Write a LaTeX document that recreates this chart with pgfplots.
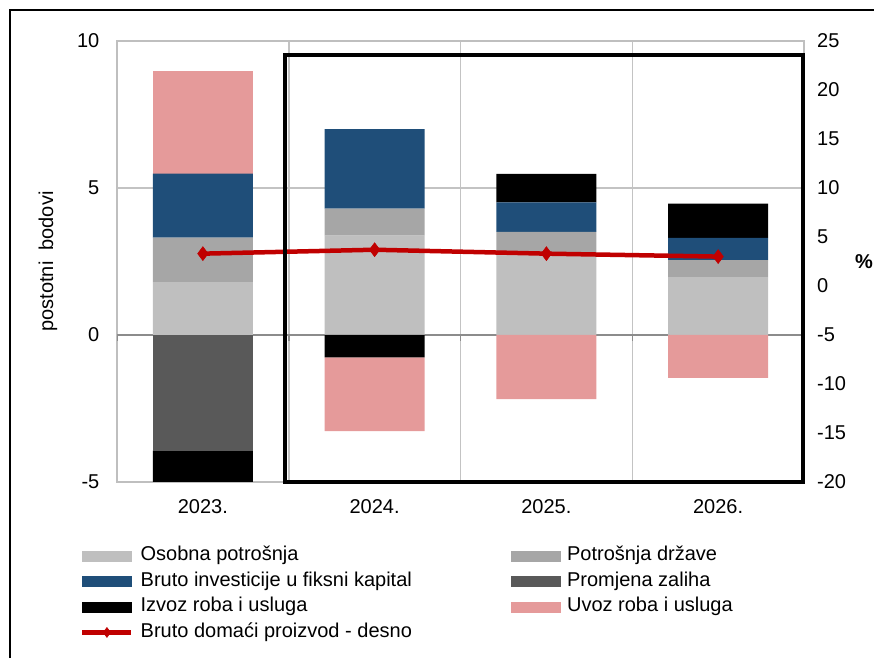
\documentclass[border=0pt]{standalone}
\usepackage{pgfplots}
\pgfplotsset{compat=1.18}
\usepackage{fontspec}
\setmainfont{Liberation Sans}

\definecolor{osobna}{HTML}{BFBFBF}
\definecolor{drzava}{HTML}{A6A6A6}
\definecolor{invest}{HTML}{1F4E79}
\definecolor{zalihe}{HTML}{595959}
\definecolor{izvoz}{HTML}{000000}
\definecolor{uvoz}{HTML}{E59A9A}
\definecolor{bdp}{HTML}{C00000}
\definecolor{okvir}{HTML}{BFBFBF}
\definecolor{mreza}{HTML}{C3C3C3}

\pgfplotsset{
  base/.style={
    at={(117pt,176pt)}, anchor=south west,
    width=687pt, height=441pt, scale only axis,
    xmin=-0.5, xmax=3.5,
    /pgf/number format/assume math mode=true,
    major tick length=0pt, minor tick length=0pt,
  },
  stupci/.style={
    base, ybar stacked, bar width=0.582, ymin=-5, ymax=10,
    xtick={0,1,2,3},
  },
  bdpleg/.style={
    legend image code/.code={\draw[mark repeat=2, mark phase=2, ##1, mark size=5pt]
      plot coordinates {(0pt,0pt) (24.5pt,0pt) (49pt,0pt)};}
  },
}

\begin{document}
\fontsize{20pt}{24pt}\selectfont
\begin{tikzpicture}
\useasboundingbox (0pt,0pt) rectangle (874pt,658pt);

% pozitivni doprinosi
\begin{axis}[stupci,
  ytick={-5,0,5,10},
  xticklabels={2023.,2024.,2025.,2026.},
  minor xtick={0.5,1.5,2.5},
  ymajorgrids, xminorgrids,
  grid style={mreza, line width=1.5pt},
  axis line style={okvir, line width=1.5pt},
  yticklabel style={inner sep=0pt, xshift=-17.5pt},
  xticklabel style={inner sep=0pt, yshift=-17pt},
  ylabel={postotni\ \ bodovi},
  ylabel style={at={(axis description cs:-0.1004,0.5)}, anchor=center},
  extra y ticks={0}, extra y tick labels={},
  extra y tick style={grid=major, major grid style={gray!90, line width=1.5pt}},
]
\draw[gray!90, line width=1.5pt] (axis cs:-0.5,0) -- ++(0pt,-6pt);
\draw[gray!90, line width=1.5pt] (axis cs:0.5,0) -- ++(0pt,-6pt);
\draw[gray!90, line width=1.5pt] (axis cs:1.5,0) -- ++(0pt,-6pt);
\draw[gray!90, line width=1.5pt] (axis cs:2.5,0) -- ++(0pt,-6pt);
\addplot[fill=osobna, draw=none] coordinates {(0,1.80) (1,3.38) (2,2.70) (3,1.97)};
\addplot[fill=drzava, draw=none] coordinates {(0,1.51) (1,0.92) (2,0.81) (3,0.58)};
\addplot[fill=invest, draw=none] coordinates {(0,2.18) (1,2.70) (2,1.00) (3,0.75)};
\addplot[fill=izvoz, draw=none] coordinates {(0,0) (1,0) (2,0.97) (3,1.17)};
\addplot[fill=uvoz, draw=none] coordinates {(0,3.48) (1,0) (2,0) (3,0)};
\end{axis}

% negativni doprinosi
\begin{axis}[stupci, hide axis]
\addplot[fill=zalihe, draw=none] coordinates {(0,-3.93) (1,0) (2,0) (3,0)};
\addplot[fill=izvoz, draw=none] coordinates {(0,-1.50) (1,-0.76) (2,0) (3,0)};
\addplot[fill=uvoz, draw=none] coordinates {(0,0) (1,-2.51) (2,-2.18) (3,-1.46)};
\end{axis}

% BDP - desna os
\begin{axis}[base,
  ymin=-20, ymax=25, ytick={-20,-15,...,25},
  axis y line*=right, axis x line=none,
  axis line style={draw=none},
  yticklabel style={inner sep=0pt, xshift=13pt},
  clip=false,
  legend columns=2,
  legend cell align=left,
  legend style={at={(-0.0539,-0.1451)}, anchor=north west,
    draw=none, fill=none, inner sep=0pt,
    column sep=7pt, row sep=6pt,
    nodes={inner sep=0pt, text height=14.5pt, text depth=5pt}},
]
\addlegendimage{legend image code/.code={\fill[osobna] (0pt,-5pt) rectangle (49pt,5pt);}}
\addlegendimage{legend image code/.code={\fill[drzava] (0pt,-5pt) rectangle (49pt,5pt);}}
\addlegendimage{legend image code/.code={\fill[invest] (0pt,-5pt) rectangle (49pt,5pt);}}
\addlegendimage{legend image code/.code={\fill[zalihe] (0pt,-5pt) rectangle (49pt,5pt);}}
\addlegendimage{legend image code/.code={\fill[izvoz] (0pt,-5pt) rectangle (49pt,5pt);}}
\addlegendimage{legend image code/.code={\fill[uvoz] (0pt,-5pt) rectangle (49pt,5pt);}}
\addplot[bdp, line width=4.5pt, mark=diamond*, mark size=7pt,
  mark options={solid, line width=0.5pt}, bdpleg]
  coordinates {(0,3.3) (1,3.7) (2,3.3) (3,3.0)};
\legend{\makebox[363pt][l]{Osobna potrošnja}, Potrošnja države,
  \makebox[363pt][l]{Bruto investicije u fiksni kapital}, Promjena zaliha,
  \makebox[363pt][l]{Izvoz roba i usluga}, Uvoz roba i usluga,
  Bruto domaći proizvod - desno}
\draw[black, line width=4pt] (rel axis cs:0.245,0) rectangle (rel axis cs:0.9985,0.968);
\node[font=\bfseries, anchor=center] at (rel axis cs:1.0873,0.4989) {\%};
\end{axis}

\draw[black, line width=1.5pt] (10pt,0pt) -- (10pt,648pt) -- (874pt,648pt);
\end{tikzpicture}
\end{document}
